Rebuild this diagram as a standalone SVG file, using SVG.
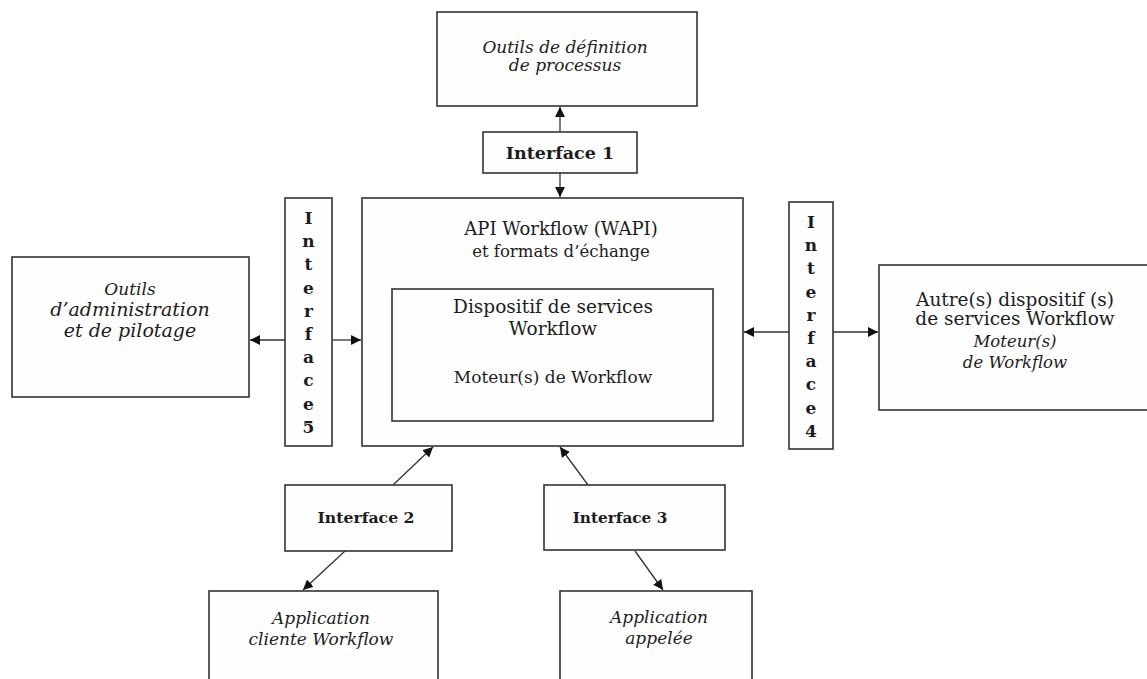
<svg xmlns="http://www.w3.org/2000/svg" width="1147" height="679" viewBox="0 0 1147 679">
<style>
.box{fill:#fefefe;stroke:#333;stroke-width:1.6}
.t{font-family:"DejaVu Serif",serif;fill:#1c1c1c;text-anchor:middle}
.i{font-style:italic}
.b{font-weight:bold}
.c{stroke:#333;stroke-width:1.3;fill:none;marker-end:url(#ah)}
</style>
<defs>
<marker id="ah" viewBox="0 0 10 10" refX="10" refY="5" markerWidth="10" markerHeight="10" markerUnits="userSpaceOnUse" orient="auto">
<path d="M0,0 L10,5 L0,10 z" fill="#111"/>
</marker>
</defs>
<rect width="1147" height="679" fill="#ffffff"/>
<g id="connectors">
<line class="c" x1="560" y1="132" x2="560" y2="107"/>
<line class="c" x1="560" y1="173" x2="560" y2="197"/>
<line class="c" x1="285" y1="340" x2="250" y2="340"/>
<line class="c" x1="332" y1="340" x2="361" y2="340"/>
<line class="c" x1="789" y1="332" x2="744" y2="332"/>
<line class="c" x1="833" y1="332" x2="878" y2="332"/>
<line class="c" x1="393" y1="485" x2="433" y2="447"/>
<line class="c" x1="345" y1="551" x2="303" y2="590"/>
<line class="c" x1="588" y1="485" x2="560" y2="447"/>
<line class="c" x1="635" y1="551" x2="663" y2="590"/>
</g>
<g id="outils-definition">
<rect class="box" x="437" y="12" width="260" height="94"/>
<text class="t i" x="565" y="53" font-size="17">Outils de définition</text>
<text class="t i" x="565" y="71" font-size="17">de processus</text>
</g>
<g id="interface1">
<rect class="box" x="483" y="132" width="154" height="41"/>
<text class="t b" x="560" y="159" font-size="17.5">Interface 1</text>
</g>
<g id="main">
<rect class="box" x="362" y="198" width="381" height="248"/>
<text class="t" x="561" y="235" font-size="18">API Workflow (WAPI)</text>
<text class="t" x="561" y="257" font-size="16.5">et formats d’échange</text>
</g>
<g id="dispositif">
<rect class="box" x="392" y="289" width="321" height="132"/>
<text class="t" x="553" y="313" font-size="18.5">Dispositif de services</text>
<text class="t" x="553" y="335" font-size="18.5">Workflow</text>
<text class="t" x="553" y="383" font-size="17">Moteur(s) de Workflow</text>
</g>
<g id="interface5">
<rect class="box" x="285" y="198" width="47" height="248"/>
<text class="t b" font-size="17"><tspan x="308.5" y="224">I</tspan><tspan x="308.5" dy="23.2">n</tspan><tspan x="308.5" dy="23.2">t</tspan><tspan x="308.5" dy="23.2">e</tspan><tspan x="308.5" dy="23.2">r</tspan><tspan x="308.5" dy="23.2">f</tspan><tspan x="308.5" dy="23.2">a</tspan><tspan x="308.5" dy="23.2">c</tspan><tspan x="308.5" dy="23.2">e</tspan><tspan x="308.5" dy="23.2">5</tspan></text>
</g>
<g id="interface4">
<rect class="box" x="789" y="202" width="44" height="247"/>
<text class="t b" font-size="17"><tspan x="811" y="228">I</tspan><tspan x="811" dy="23.2">n</tspan><tspan x="811" dy="23.2">t</tspan><tspan x="811" dy="23.2">e</tspan><tspan x="811" dy="23.2">r</tspan><tspan x="811" dy="23.2">f</tspan><tspan x="811" dy="23.2">a</tspan><tspan x="811" dy="23.2">c</tspan><tspan x="811" dy="23.2">e</tspan><tspan x="811" dy="23.2">4</tspan></text>
</g>
<g id="outils-admin">
<rect class="box" x="12" y="257" width="237" height="140"/>
<text class="t i" x="130" y="295" font-size="17">Outils</text>
<text class="t i" x="130" y="316" font-size="19">d’administration</text>
<text class="t i" x="130" y="337" font-size="19">et de pilotage</text>
</g>
<g id="autres">
<rect class="box" x="879" y="265" width="275" height="145"/>
<text class="t" x="1015" y="306" font-size="18.5">Autre(s) dispositif (s)</text>
<text class="t" x="1015" y="325" font-size="18.5">de services Workflow</text>
<text class="t i" x="1015" y="347" font-size="16.5">Moteur(s)</text>
<text class="t i" x="1015" y="368" font-size="16.5">de Workflow</text>
</g>
<g id="interface2">
<rect class="box" x="285" y="485" width="167" height="66"/>
<text class="t b" x="366" y="523" font-size="15.7">Interface 2</text>
</g>
<g id="interface3">
<rect class="box" x="544" y="485" width="181" height="65"/>
<text class="t b" x="620" y="523" font-size="15.3">Interface 3</text>
</g>
<g id="app-cliente">
<rect class="box" x="209" y="591" width="229" height="100"/>
<text class="t i" x="321" y="624" font-size="17">Application</text>
<text class="t i" x="321" y="645" font-size="17">cliente Workflow</text>
</g>
<g id="app-appelee">
<rect class="box" x="560" y="591" width="192" height="100"/>
<text class="t i" x="659" y="623" font-size="17">Application</text>
<text class="t i" x="659" y="644" font-size="17">appelée</text>
</g>
</svg>
